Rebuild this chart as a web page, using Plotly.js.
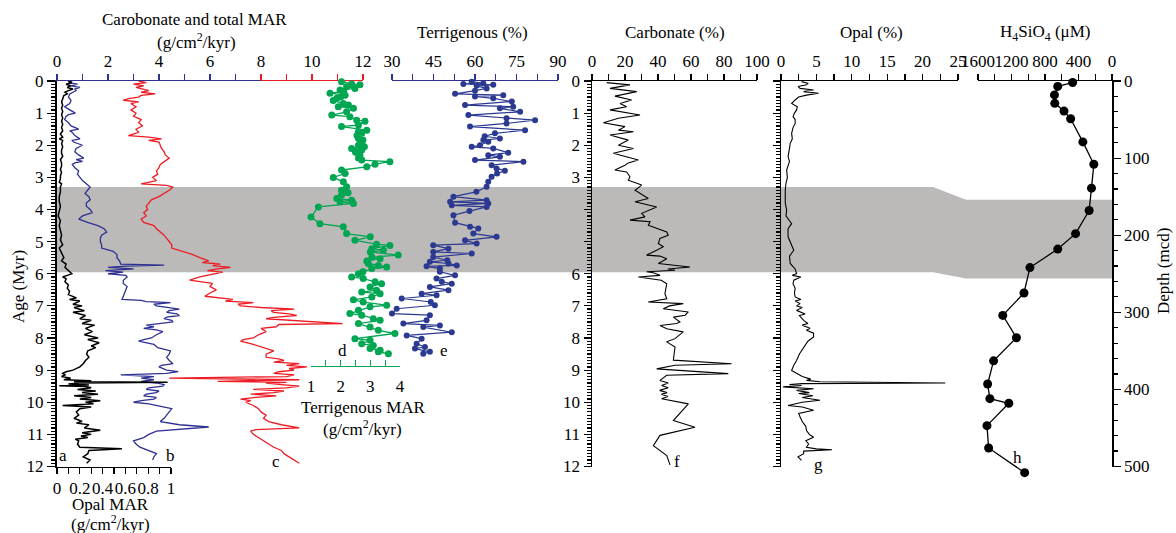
<!DOCTYPE html>
<html><head><meta charset="utf-8">
<script src="https://cdn.plot.ly/plotly-3.0.1.min.js"></script>
<style>html,body{margin:0;padding:0;background:#fff}#chart{width:1176px;height:533px}</style>
</head><body><div id="chart"></div>
<script>
// ---------- DATA ----------
// a: Opal MAR (g/cm2/kyr)
const ageA = [0,0.05,0.1,0.15,0.2,0.25,0.3,0.35,0.4,0.45,0.55,0.65,0.75,0.85,0.95,1.05,1.15,1.25,1.35,1.45,1.55,1.65,1.75,1.8,1.85,1.95,2.05,2.15,2.25,2.35,2.45,2.55,2.65,2.75,2.85,2.95,3.05,3.15,3.2,3.3,3.45,3.6,3.75,3.9,4.05,4.2,4.35,4.5,4.65,4.8,4.95,5.1,5.2,5.35,5.5,5.6,5.7,5.8,5.9,6.0,6.05,6.1,6.15,6.25,6.35,6.45,6.55,6.65,6.75,6.8,6.85,6.95,7.0,7.05,7.15,7.2,7.3,7.4,7.45,7.55,7.6,7.7,7.8,7.9,8.0,8.05,8.15,8.25,8.3,8.4,8.5,8.6,8.7,8.8,8.9,9.0,9.05,9.1,9.15,9.2,9.25,9.3,9.33,9.36,9.38,9.4,9.43,9.46,9.49,9.51,9.55,9.6,9.65,9.7,9.75,9.8,9.85,9.9,9.95,10.0,10.05,10.1,10.15,10.2,10.3,10.4,10.5,10.6,10.65,10.7,10.8,10.87,10.95,11.0,11.05,11.1,11.15,11.2,11.3,11.4,11.45,11.5,11.6,11.7,11.8,11.9];
const opalMAR = [0.10,0.13,0.08,0.12,0.09,0.14,0.10,0.07,0.09,0.06,0.05,0.04,0.05,0.04,0.05,0.04,0.05,0.04,0.05,0.04,0.05,0.03,0.05,0.02,0.05,0.04,0.05,0.04,0.04,0.05,0.03,0.04,0.04,0.03,0.04,0.03,0.03,0.02,0.04,0.03,0.03,0.02,0.02,0.03,0.02,0.01,0.03,0.02,0.03,0.04,0.03,0.05,0.02,0.04,0.06,0.04,0.08,0.07,0.10,0.13,0.09,0.05,0.08,0.07,0.10,0.09,0.11,0.10,0.17,0.11,0.20,0.14,0.22,0.15,0.24,0.14,0.25,0.20,0.30,0.22,0.33,0.25,0.31,0.24,0.36,0.27,0.37,0.30,0.34,0.27,0.26,0.28,0.25,0.23,0.20,0.14,0.08,0.05,0.07,0.04,0.12,0.06,0.30,0.15,0.97,0.20,0.10,0.28,0.02,0.25,0.30,0.18,0.34,0.22,0.36,0.15,0.30,0.20,0.38,0.25,0.32,0.05,0.30,0.20,0.17,0.19,0.15,0.22,0.17,0.28,0.24,0.38,0.22,0.30,0.21,0.27,0.16,0.19,0.18,0.20,0.57,0.28,0.27,0.23,0.29,0.26];

// b: Carbonate MAR (blue)
const ageB = [0,0.05,0.1,0.15,0.2,0.25,0.3,0.4,0.5,0.6,0.7,0.8,0.9,1.0,1.05,1.1,1.2,1.3,1.4,1.5,1.55,1.6,1.7,1.8,1.85,1.9,2.0,2.1,2.2,2.3,2.4,2.45,2.5,2.55,2.6,2.7,2.8,2.9,3.0,3.1,3.2,3.3,3.4,3.5,3.6,3.7,3.8,3.9,4.0,4.1,4.2,4.3,4.4,4.5,4.6,4.7,4.8,4.9,5.0,5.1,5.2,5.3,5.4,5.5,5.6,5.7,5.73,5.76,5.8,5.85,5.9,5.95,6.0,6.05,6.1,6.2,6.3,6.4,6.5,6.6,6.7,6.8,6.83,6.87,6.9,6.95,7.0,7.05,7.1,7.15,7.2,7.25,7.3,7.35,7.4,7.45,7.5,7.55,7.6,7.65,7.7,7.75,7.8,7.9,8.0,8.05,8.1,8.2,8.3,8.4,8.5,8.6,8.7,8.8,8.85,8.9,9.0,9.05,9.1,9.15,9.2,9.25,9.3,9.35,9.4,9.45,9.5,9.55,9.6,9.65,9.7,9.75,9.8,9.85,9.9,9.95,10.0,10.05,10.1,10.2,10.3,10.4,10.5,10.6,10.7,10.77,10.85,10.9,11.0,11.1,11.2,11.3,11.4,11.5,11.6,11.7,11.8];
const carbMAR = [0.6,0.45,0.8,0.55,0.9,0.7,0.75,0.5,0.45,0.55,0.5,0.3,0.5,0.72,0.45,0.35,0.3,0.45,0.55,0.85,0.5,0.6,0.7,0.9,0.6,0.65,1.0,0.75,0.7,0.85,1.05,0.75,1.0,0.7,0.6,0.7,0.85,0.8,0.9,1.0,1.15,1.3,1.2,1.1,1.25,1.3,1.15,1.15,1.3,1.38,1.0,0.85,1.2,1.6,1.85,1.95,1.75,1.7,1.7,1.75,1.75,2.2,2.35,2.35,2.45,2.5,4.2,2.7,2.0,3.0,1.9,2.6,2.0,2.7,2.75,2.6,2.6,2.75,2.7,2.65,2.6,2.55,3.3,3.5,4.45,3.8,3.9,4.3,4.8,4.4,4.3,4.7,4.8,4.3,4.2,4.5,4.55,4.0,3.5,3.8,3.4,3.9,4.15,3.9,3.7,3.4,3.2,3.8,3.95,4.45,4.4,4.3,4.4,4.55,4.1,4.0,4.3,4.75,4.3,2.5,3.8,3.3,3.8,3.3,3.9,4.2,4.15,3.6,3.5,4.0,3.9,3.5,3.4,3.9,3.8,3.3,3.0,3.6,3.9,4.5,4.4,4.3,4.2,4.05,4.8,5.95,4.8,3.9,3.6,3.4,3.0,3.1,3.25,3.6,3.9,3.8,3.75];

// c: Total MAR (red)
const ageC = [0,0.05,0.1,0.15,0.2,0.3,0.35,0.4,0.45,0.5,0.55,0.6,0.65,0.7,0.8,0.9,1.0,1.1,1.2,1.3,1.4,1.5,1.6,1.7,1.75,1.8,1.85,1.9,2.0,2.1,2.2,2.3,2.4,2.5,2.6,2.7,2.8,2.9,3.0,3.1,3.2,3.25,3.3,3.4,3.5,3.6,3.7,3.8,3.9,4.0,4.1,4.2,4.3,4.4,4.5,4.6,4.7,4.8,4.9,5.0,5.1,5.2,5.3,5.4,5.5,5.6,5.65,5.7,5.75,5.8,5.85,5.9,5.95,6.0,6.05,6.1,6.2,6.3,6.4,6.5,6.6,6.7,6.8,6.85,6.9,6.95,7.0,7.05,7.1,7.15,7.2,7.25,7.3,7.35,7.4,7.45,7.5,7.55,7.58,7.65,7.7,7.8,7.9,8.0,8.05,8.1,8.2,8.3,8.4,8.5,8.6,8.65,8.7,8.75,8.8,8.85,8.9,8.95,9.0,9.05,9.1,9.15,9.2,9.25,9.28,9.3,9.33,9.35,9.38,9.4,9.45,9.5,9.55,9.6,9.65,9.7,9.75,9.8,9.85,9.9,9.95,10.0,10.1,10.2,10.3,10.4,10.5,10.6,10.7,10.8,10.85,10.9,11.0,11.1,11.2,11.3,11.4,11.5,11.6,11.7,11.8,11.9];
const totalMAR = [3.2,3.5,3.0,3.4,3.1,3.6,3.3,3.85,3.3,3.2,2.8,2.6,3.2,2.9,3.1,2.9,3.1,3.0,3.3,3.2,3.35,3.1,3.2,2.8,3.6,4.1,3.6,4.0,4.05,4.1,4.2,4.25,4.4,4.2,4.05,4.0,3.9,3.95,3.75,3.9,3.3,4.3,4.55,4.4,4.2,4.0,3.7,3.6,3.5,3.55,3.4,3.5,3.3,3.4,3.8,3.9,4.05,4.2,4.3,4.4,4.5,4.5,4.95,5.3,5.6,5.95,5.7,6.4,6.1,6.8,6.3,5.9,6.5,6.2,5.8,5.6,5.2,6.1,6.0,6.25,6.0,5.8,6.9,6.6,7.7,7.1,7.2,8.0,9.3,8.4,8.5,9.1,9.4,8.6,8.2,9.1,9.9,11.2,8.7,8.6,8.0,8.2,7.9,7.7,7.3,7.2,7.7,8.1,8.5,8.2,8.2,8.7,8.9,8.5,9.5,9.0,9.8,9.1,9.3,8.7,8.5,9.3,9.0,4.4,9.2,9.5,7.5,6.3,9.0,8.2,8.8,9.5,9.0,7.7,8.9,8.5,7.6,8.6,7.8,7.2,7.6,7.4,7.7,7.9,8.0,8.2,8.1,8.3,8.8,9.5,7.8,7.6,7.7,7.9,8.1,8.3,8.5,8.8,8.9,9.1,9.3,9.5];

// d: Terrigenous MAR (green)
const ageD = [0.02,0.09,0.12,0.18,0.23,0.28,0.33,0.38,0.44,0.5,0.54,0.61,0.7,0.75,0.8,0.85,0.96,1.06,1.11,1.22,1.25,1.37,1.42,1.53,1.58,1.63,1.7,1.79,1.84,1.89,2.0,2.05,2.1,2.15,2.22,2.31,2.4,2.46,2.51,2.59,2.67,2.77,2.88,3.0,3.14,3.29,3.4,3.48,3.55,3.66,3.71,3.76,3.81,3.92,4.23,4.44,4.54,4.75,4.85,4.96,5.08,5.12,5.22,5.27,5.32,5.42,5.48,5.53,5.6,5.68,5.74,5.79,5.84,5.94,6.0,6.1,6.15,6.25,6.31,6.41,6.51,6.57,6.62,6.72,6.81,6.88,6.98,7.03,7.14,7.24,7.29,7.4,7.45,7.55,7.66,7.76,7.86,8.02,8.07,8.18,8.23,8.33,8.38,8.43,8.49];
const terrMAR = [2.03,2.37,2.65,2.2,2.48,1.98,2.1,1.64,2.15,2.0,1.87,1.75,2.09,2.26,1.92,2.43,2.2,1.7,2.31,2.54,2.82,2.6,2.03,2.88,2.6,2.71,2.55,2.6,2.75,2.71,2.6,2.8,2.37,2.71,2.5,2.65,2.6,2.71,3.66,3.16,2.88,2.03,2.15,1.75,2.09,2.2,2.03,2.25,2.03,1.87,2.37,1.98,2.43,1.25,1.0,1.30,2.09,2.2,3.0,2.48,3.21,3.66,3.05,3.44,3.0,3.94,3.05,3.33,2.88,2.93,3.27,3.55,3.05,2.75,2.6,2.37,2.76,3.16,3.38,2.99,3.21,2.71,3.33,3.05,2.43,2.76,3.55,2.99,2.6,2.31,2.71,3.10,3.33,2.60,2.99,3.27,3.83,2.48,2.99,2.71,3.10,2.99,3.33,3.27,3.61];

// e: Terrigenous (%)
const ageE = [0.02,0.07,0.09,0.12,0.15,0.23,0.3,0.4,0.44,0.48,0.54,0.64,0.75,0.8,0.85,0.96,1.06,1.16,1.22,1.32,1.42,1.53,1.63,1.72,1.79,1.84,1.89,2.0,2.05,2.1,2.23,2.31,2.36,2.46,2.51,2.62,2.72,2.79,2.88,2.98,3.14,3.29,3.45,3.6,3.71,3.76,3.81,3.87,3.92,4.05,4.18,4.41,4.54,4.59,4.75,4.85,4.96,5.06,5.11,5.22,5.32,5.37,5.48,5.58,5.63,5.68,5.74,5.77,5.84,5.94,6.05,6.15,6.25,6.31,6.41,6.51,6.62,6.67,6.77,6.88,6.98,7.09,7.24,7.29,7.45,7.55,7.61,7.66,7.82,7.92,8.02,8.18,8.28,8.33,8.43,8.49];
const terrPct = [58.8,63.0,55.8,66.6,60.6,64.2,60.0,52.8,70.2,60.0,66.6,73.3,56.4,73.8,69.0,76.3,57.6,71.4,81.7,71.4,58.2,78.1,67.2,63.5,69.0,63.0,64.8,61.8,58.8,66.6,72.0,64.8,69.0,60.0,77.5,66.0,67.8,70.8,68.0,66.0,64.8,64.2,60.5,52.2,64.2,51.0,64.8,51.6,64.2,58.0,52.2,52.8,58.2,61.2,59.4,67.8,56.4,60.6,44.9,50.4,44.9,58.8,44.9,50.0,43.7,50.4,53.4,42.5,47.3,47.3,52.8,46.1,48.0,51.6,43.7,50.4,40.7,46.1,33.5,44.0,45.5,31.7,30.0,43.7,42.5,34.1,47.3,41.3,51.6,35.3,40.7,38.9,41.9,38.3,43.7,41.3];

// f: Carbonate (%)
const ageF = [0.05,0.12,0.23,0.33,0.47,0.59,0.7,0.8,0.9,1.06,1.16,1.3,1.42,1.53,1.58,1.68,1.84,2.0,2.1,2.25,2.46,2.55,2.62,2.77,2.83,2.98,3.09,3.24,3.4,3.5,3.66,3.76,3.92,4.12,4.23,4.33,4.38,4.49,4.7,4.8,4.9,5.06,5.16,5.27,5.42,5.45,5.53,5.68,5.79,5.85,5.89,5.94,5.97,6.05,6.1,6.2,6.31,6.62,6.78,6.88,6.93,7.0,7.09,7.19,7.29,7.35,7.5,7.55,7.61,7.71,7.81,8.02,8.12,8.28,8.69,8.8,8.85,8.96,9.11,9.16,9.25,9.32,9.4,9.48,9.55,9.63,9.7,9.75,9.82,9.89,10.05,10.57,10.78,11.03,11.35,11.66,11.95];
const carbPct = [8.9,23.0,10.9,27.1,13.9,24.0,17.0,21.0,10.9,29.1,16.0,6.9,20.0,16.0,25.1,10.9,22.0,16.0,25.1,12.9,28.1,22.0,20.0,13.9,21.0,23.0,22.0,30.1,26.1,29.1,34.1,26.1,39.2,30.1,32.1,23.0,35.2,34.1,45.3,46.2,41.2,40.2,43.2,39.2,33.1,41.2,45.3,40.2,59.4,46.0,50.3,33.1,37.2,41.2,28.1,42.0,45.3,44.2,45.3,34.1,55.3,47.0,43.2,58.4,56.4,49.3,53.3,51.3,41.2,45.3,55.3,50.3,45.3,50.3,49.3,84.6,50.3,39.2,82.6,45.3,43.0,41.2,46.2,42.2,46.2,41.0,45.5,42.0,46.0,42.2,58.4,49.3,62.4,41.2,37.2,45.3,47.3];

// g: Opal (%)
const ageG = [0.02,0.07,0.12,0.17,0.23,0.28,0.33,0.38,0.44,0.5,0.59,0.7,0.8,0.9,1.0,1.11,1.2,1.32,1.45,1.63,1.8,1.94,2.1,2.36,2.5,2.77,3.0,3.19,3.4,3.6,3.8,4.02,4.2,4.44,4.6,4.85,5.0,5.27,5.45,5.68,5.85,6.0,6.05,6.1,6.2,6.31,6.45,6.6,6.72,6.8,6.85,6.93,7.0,7.05,7.14,7.25,7.3,7.45,7.55,7.6,7.7,7.76,7.85,7.97,8.1,8.28,8.5,8.7,8.85,9.01,9.11,9.2,9.28,9.32,9.36,9.4,9.42,9.45,9.48,9.52,9.58,9.63,9.7,9.73,9.8,9.85,9.94,10.0,10.1,10.15,10.25,10.35,10.46,10.6,10.75,10.88,11.0,11.09,11.2,11.3,11.4,11.45,11.48,11.52,11.6,11.7,11.81];
const opalPct = [2.9,3.8,3.6,2.4,2.7,4.6,3.2,5.3,3.6,2.5,2.0,1.5,2.3,2.2,1.9,1.7,2.0,2.0,1.7,1.5,1.6,1.3,1.2,1.0,1.2,0.8,0.9,0.7,0.6,0.56,0.6,0.8,0.7,1.5,1.0,1.0,1.3,1.8,1.2,1.3,2.0,2.2,1.6,2.8,1.8,1.7,2.0,1.9,2.0,2.8,2.0,2.7,2.2,3.0,2.2,3.4,2.6,3.2,3.8,3.0,4.1,3.6,4.6,4.6,3.8,3.2,2.6,2.2,1.8,1.5,2.2,3.0,4.2,3.6,5.5,23.2,3.0,1.2,2.9,0.3,4.6,2.2,4.0,2.5,4.5,3.0,5.5,3.0,1.0,3.0,4.6,2.5,2.7,3.0,3.5,3.6,4.0,4.6,3.5,3.9,3.6,5.0,7.2,3.2,3.2,2.4,2.9];

// h: H4SiO4 (uM) vs depth (mcd)
const depthH = [2,7,18,29,39,49,79,108,139,168,198,218,242,275,304,333,363,393,412,418,447,476,508];
const h4sio4 = [470,648,687,683,573,494,348,217,245,273,435,648,980,1051,1304,1141,1414,1485,1458,1232,1493,1473,1043];

// shaded interval
const bandAge = [3.3, 5.95];      // Myr
const bandDepth = [154, 256];     // mcd

// tick labels
const ageTicks = [0,1,2,3,4,5,6,7,8,9,10,11,12];
const ageTickTextCarb = ['0','1','2','3',' ',' ','6','7','8','9','10','11','12'];

// ---------- LAYOUT ----------
const W = 1176, H = 533;
const X = p => p / W, Y = p => 1 - p / H;
const topPx = 81, botPx = 466.5;
const yTop = Y(topPx), yBot = Y(botPx);
const FONT = 'Liberation Serif, Times New Roman, serif';
const BLUE = '#2e3192', RED = '#ed1c24', GREEN = '#00a651', NAVY = '#2b3990', GRAY = '#bcb9b9';

function ax(extra) {
  return Object.assign({
    showgrid: false, zeroline: false, showline: true, linecolor: '#000', linewidth: 1.2,
    ticks: 'outside', tickcolor: '#000', tickwidth: 1.2, ticklen: 6, tickangle: 0,
    tickfont: {family: FONT, size: 17, color: '#000'}, fixedrange: true, automargin: false
  }, extra);
}
function minor(d, len, col) { return {dtick: d, ticklen: len, ticks: 'outside', tickcolor: col || '#000', tickwidth: 1.2, showgrid: false}; }

const ageToP = a => yTop - a / 12 * (yTop - yBot);
const depToP = d => yTop - d / 500 * (yTop - yBot);
// invisible depth axis with the same scale, extended downward so the deepest sample is not hidden
const extPx = 495;
const depthExt = 500 * (extPx - topPx) / (botPx - topPx);

const traces = [
  {x: carbMAR, y: ageB, xaxis: 'x', yaxis: 'y', mode: 'lines', line: {color: BLUE, width: 1.3}},
  {x: [null], y: [null], xaxis: 'x2', yaxis: 'y', mode: 'lines'},
  {x: totalMAR, y: ageC, xaxis: 'x3', yaxis: 'y', mode: 'lines', line: {color: RED, width: 1.3}},
  {x: opalMAR, y: ageA, xaxis: 'x4', yaxis: 'y', mode: 'lines', line: {color: '#000', width: 1.5}},
  {x: terrMAR, y: ageD, xaxis: 'x5', yaxis: 'y', mode: 'lines+markers', cliponaxis: false,
   line: {color: GREEN, width: 1.3}, marker: {color: GREEN, size: 7}},
  {x: terrPct, y: ageE, xaxis: 'x6', yaxis: 'y', mode: 'lines+markers', cliponaxis: false,
   line: {color: NAVY, width: 1.2}, marker: {color: NAVY, size: 6}},
  {x: carbPct, y: ageF, xaxis: 'x7', yaxis: 'y2', mode: 'lines', line: {color: '#000', width: 1.1}},
  {x: opalPct, y: ageG, xaxis: 'x8', yaxis: 'y3', mode: 'lines', line: {color: '#000', width: 1.1}},
  {x: [null], y: [null], xaxis: 'x9', yaxis: 'y4', mode: 'lines'},
  {x: h4sio4, y: depthH, xaxis: 'x9', yaxis: 'y5', mode: 'lines+markers', cliponaxis: false,
   line: {color: '#000', width: 1.3}, marker: {color: '#000', size: 9}}
];
traces.forEach(t => { t.showlegend = false; t.hoverinfo = 'skip'; });

const ann = (x, y, text, opts) => Object.assign({xref: 'paper', yref: 'paper', x: X(x), y: Y(y), text: text,
  showarrow: false, xanchor: 'center', yanchor: 'middle', font: {family: FONT, size: 17, color: '#000'}}, opts || {});

const layout = {
  width: W, height: H, margin: {l: 0, r: 0, t: 0, b: 0},
  paper_bgcolor: '#fff', plot_bgcolor: 'rgba(0,0,0,0)', showlegend: false,
  xaxis: ax({domain: [X(57), X(261)], range: [0, 8], side: 'top', anchor: 'y', dtick: 2,
    linecolor: BLUE, tickcolor: BLUE, minor: minor(1, 6, BLUE)}),
  xaxis2: ax({domain: [X(261), X(363)], range: [8, 12], side: 'top', anchor: 'y', tickmode: 'array', tickvals: [10, 12],
    linecolor: RED, tickcolor: RED, minor: minor(1, 6, RED)}),
  xaxis3: {domain: [X(57), X(363)], range: [0, 12], anchor: 'y', visible: false, fixedrange: true},
  xaxis4: ax({domain: [X(57), X(171)], range: [0, 1], side: 'bottom', anchor: 'y', dtick: 0.2, minor: minor(0.1, 6)}),
  xaxis5: ax({domain: [X(311), X(400)], range: [1, 4], side: 'bottom', anchor: 'free', position: Y(366),
    ticks: 'inside', dtick: 1, linecolor: GREEN, tickcolor: GREEN, ticklabelstandoff: 4,
    minor: {dtick: 0.5, ticklen: 6, ticks: 'inside', tickcolor: GREEN, tickwidth: 1.2}}),
  xaxis6: ax({domain: [X(392), X(558)], range: [30, 90], side: 'top', anchor: 'y', dtick: 15,
    linecolor: BLUE, tickcolor: BLUE, minor: minor(7.5, 6, BLUE)}),
  xaxis7: ax({domain: [X(592), X(757)], range: [0, 100], side: 'top', anchor: 'y2', dtick: 20, minor: minor(10, 6)}),
  xaxis8: ax({domain: [X(781), X(958)], range: [0, 25], side: 'top', anchor: 'y3', dtick: 5, minor: minor(2.5, 6)}),
  xaxis9: ax({domain: [X(978), X(1112)], range: [1600, 0], side: 'top', anchor: 'y4', dtick: 400, minor: minor(200, 6)}),
  yaxis: ax({domain: [yBot, yTop], range: [12, 0], anchor: 'x', side: 'left', dtick: 1, ticklen: 8, linewidth: 2,
    minor: minor(0.1, 4)}),
  yaxis2: ax({domain: [yBot, yTop], range: [12, 0], anchor: 'x7', side: 'left', tickmode: 'array',
    tickvals: ageTicks, ticktext: ageTickTextCarb, ticklen: 7, linewidth: 1.5, minor: minor(0.1, 4)}),
  yaxis3: ax({domain: [yBot, yTop], range: [12, 0], anchor: 'x8', side: 'left', dtick: 1, ticklen: 7, linewidth: 1.5,
    showticklabels: false, minor: minor(0.1, 4)}),
  yaxis4: ax({domain: [yBot, yTop], range: [500, 0], anchor: 'x9', side: 'right', dtick: 100, ticklen: 7, linewidth: 1.5,
    minor: minor(20, 4)}),
  yaxis5: {domain: [Y(extPx), yTop], range: [depthExt, 0], anchor: 'x9', visible: false, fixedrange: true},
  shapes: [
    {type: 'rect', xref: 'paper', yref: 'y', x0: X(57), x1: X(933), y0: bandAge[0], y1: bandAge[1],
     fillcolor: GRAY, line: {width: 0}, layer: 'below'},
    {type: 'path', xref: 'paper', yref: 'paper', layer: 'below', fillcolor: GRAY, line: {width: 0},
     path: `M ${X(933)},${ageToP(bandAge[0])} L ${X(966)},${depToP(bandDepth[0])} L ${X(966)},${depToP(bandDepth[1])} L ${X(933)},${ageToP(bandAge[1])} Z`},
    {type: 'rect', xref: 'paper', yref: 'y4', x0: X(965), x1: X(1112), y0: bandDepth[0], y1: bandDepth[1],
     fillcolor: GRAY, line: {width: 0}, layer: 'below'}
  ],
  annotations: [
    ann(194, 20, 'Carobonate and total MAR'),
    ann(196, 41, '(g/cm<sup>2</sup>/kyr)'),
    ann(472, 33, 'Terrigenous (%)'),
    ann(675, 33, 'Carbonate (%)'),
    ann(871, 33, 'Opal (%)'),
    ann(1045, 33, 'H<sub>4</sub>SiO<sub>4</sub> (μM)'),
    ann(110, 504, 'Opal MAR'),
    ann(110, 523, '(g/cm<sup>2</sup>/kyr)'),
    ann(363, 407, 'Terrigenous MAR'),
    ann(362, 428, '(g/cm<sup>2</sup>/kyr)'),
    ann(18, 287, 'Age (Myr)', {textangle: -90}),
    ann(1163, 271, 'Depth (mcd)', {textangle: -90}),
    ann(63, 455, 'a'), ann(170, 455, 'b'), ann(276, 461, 'c'), ann(342, 350, 'd'),
    ann(444, 350, 'e'), ann(677, 461, 'f'), ann(818, 464, 'g'), ann(1017, 457, 'h')
  ]
};

Plotly.newPlot('chart', traces, layout, {staticPlot: true, displayModeBar: false});
</script>
</body></html>
